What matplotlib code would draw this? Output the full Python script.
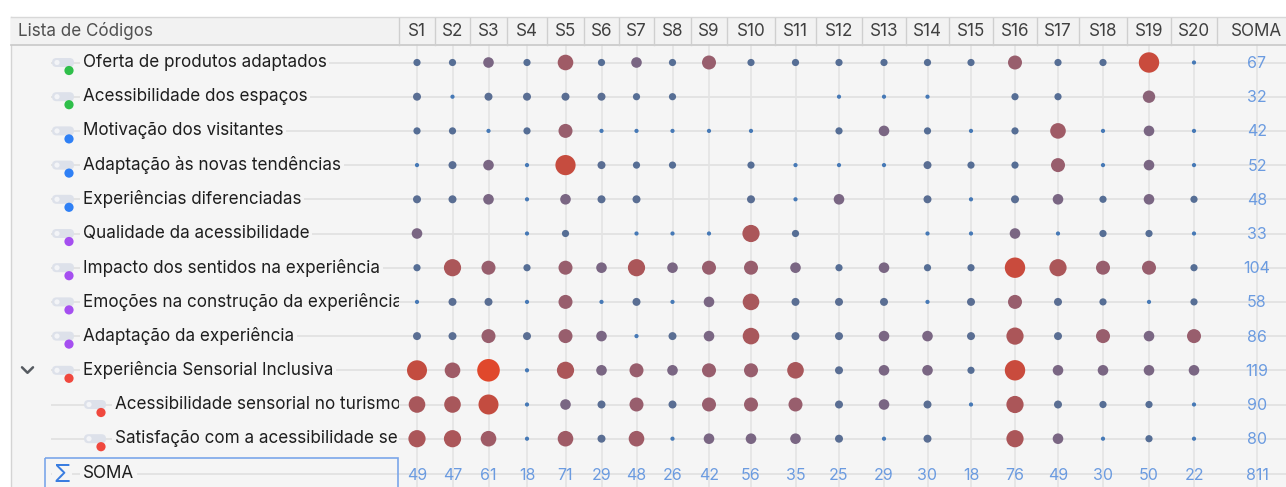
import numpy as np
import matplotlib
matplotlib.use("Agg")
import matplotlib.pyplot as plt
from matplotlib.patches import Rectangle, FancyBboxPatch, Circle
from matplotlib.colors import to_rgb

plt.rcParams['font.family'] = ['Inter', 'DejaVu Sans']

# ---------------- data ----------------
codes = [
    "Oferta de produtos adaptados",
    "Acessibilidade dos espaços",
    "Motivação dos visitantes",
    "Adaptação às novas tendências",
    "Experiências diferenciadas",
    "Qualidade da acessibilidade",
    "Impacto dos sentidos na experiência",
    "Emoções na construção da experiência",
    "Adaptação da experiência",
    "Experiência Sensorial Inclusiva",
    "Acessibilidade sensorial no turismo",
    "Satisfação com a acessibilidade sensorial",
]
code_colors = ["#2fbf4a", "#2fbf4a", "#2f80f5", "#2f80f5", "#2f80f5",
               "#a54ff0", "#a54ff0", "#a54ff0", "#a54ff0",
               "#f0483e", "#f0483e", "#f0483e"]
code_level = [0, 0, 0, 0, 0, 0, 0, 0, 0, 0, 1, 1]
expanded_row = 9

documents = ["S1", "S2", "S3", "S4", "S5", "S6", "S7", "S8", "S9", "S10",
             "S11", "S12", "S13", "S14", "S15", "S16", "S17", "S18", "S19", "S20"]

counts = [
    [2, 2, 4, 2, 7, 2, 4, 2, 6, 2, 2, 2, 2, 2, 2, 6, 2, 2, 13, 1],
    [3, 1, 3, 3, 3, 3, 2, 2, 0, 0, 0, 1, 1, 1, 0, 2, 2, 0, 5, 0],
    [2, 2, 1, 2, 6, 1, 1, 1, 1, 1, 0, 2, 4, 2, 1, 2, 7, 1, 4, 1],
    [1, 3, 4, 1, 12, 3, 2, 2, 0, 2, 1, 1, 1, 3, 2, 2, 6, 1, 4, 1],
    [3, 3, 4, 1, 4, 3, 3, 0, 0, 3, 1, 4, 0, 3, 1, 3, 4, 2, 4, 2],
    [4, 0, 0, 1, 2, 0, 1, 1, 1, 9, 2, 0, 0, 1, 1, 4, 1, 2, 2, 1],
    [2, 9, 6, 2, 6, 4, 9, 4, 6, 6, 4, 2, 4, 2, 2, 13, 9, 6, 6, 2],
    [1, 3, 3, 1, 6, 1, 3, 1, 4, 8, 3, 3, 3, 1, 3, 6, 3, 2, 1, 2],
    [3, 3, 6, 3, 6, 4, 1, 3, 4, 8, 3, 3, 4, 4, 3, 9, 3, 6, 4, 6],
    [11, 7, 15, 1, 9, 4, 6, 4, 6, 6, 8, 3, 4, 4, 2, 13, 4, 4, 4, 4],
    [8, 8, 11, 1, 4, 3, 6, 3, 6, 6, 6, 3, 4, 3, 1, 9, 3, 2, 2, 1],
    [9, 9, 7, 1, 7, 3, 7, 1, 4, 4, 4, 3, 1, 3, 0, 9, 4, 1, 2, 1],
]

row_totals = [67, 32, 42, 52, 48, 33, 104, 58, 86, 119, 90, 80]
col_totals = [49, 47, 61, 18, 71, 29, 48, 26, 42, 56, 35, 25, 29, 30, 18, 76, 49, 30, 50, 22]
grand_total = 811

# ---------------- layout (pixels) ----------------
W, H = 1286, 487
col_edges = [399, 435, 470, 507, 547, 584, 619, 654, 691, 727, 775, 816,
             862, 906, 949, 993, 1037, 1079, 1127, 1171, 1217]
col_x = [(col_edges[i] + col_edges[i + 1]) / 2 for i in range(len(documents))]
soma_x = 1257
row_y0, row_dy = 62.5, 34.2
row_y = [row_y0 + i * row_dy for i in range(len(codes))]
sum_y = 474
hdr_top, hdr_bot = 17, 45
LAB_W = 399
fs_lab = 12.3
fs_num = 11.5

fig = plt.figure(figsize=(W / 100, H / 100), dpi=100)
ax = fig.add_axes([0, 0, 1, 1])
ax.set_xlim(0, W)
ax.set_ylim(H, 0)
ax.axis('off')

# label panel axes (clips long labels at the column border)
axl = fig.add_axes([0, 0, LAB_W / W, 1])
axl.set_xlim(0, LAB_W)
axl.set_ylim(H, 0)
axl.axis('off')
axl.patch.set_visible(False)

bg = "#f5f5f5"
ax.add_patch(Rectangle((11, hdr_bot), W - 11, H - hdr_bot, facecolor=bg, edgecolor="none", zorder=0))
ax.plot([11, 11], [hdr_top, H], color="#d4d4d4", lw=1, zorder=1)

# header
ax.add_patch(Rectangle((11, hdr_top), W - 11, hdr_bot - hdr_top, facecolor="#f2f2f2",
                       edgecolor="none", zorder=1))
ax.plot([11, W], [hdr_top, hdr_top], color="#d8d8d8", lw=1, zorder=2)
ax.plot([11, W], [hdr_bot, hdr_bot], color="#c8c8c8", lw=1.2, zorder=2)
for e in col_edges:
    ax.plot([e, e], [hdr_top + 1, hdr_bot], color="#cfcfcf", lw=1, zorder=2)
ax.text(18, 31, "Lista de Códigos", fontsize=fs_lab, color="#505050", va="center", ha="left", zorder=3)
for x, d in zip(col_x, documents):
    ax.text(x, 31.5, d, fontsize=fs_lab, color="#404040", va="center", ha="center", zorder=3)
ax.text(soma_x, 31.5, "SOMA", fontsize=fs_lab, color="#404040", va="center", ha="center", zorder=3)

# grid lines
grid_c = "#e3e3e3"
for y in row_y + [sum_y]:
    ax.plot([52, W], [y, y], color=grid_c, lw=1.4, zorder=1)
for x in col_x + [soma_x]:
    ax.plot([x, x], [hdr_bot, H], color=grid_c, lw=1.2, zorder=1)

# row labels
for i, (lab, c, lvl, y) in enumerate(zip(codes, code_colors, code_level, row_y)):
    x0 = 51 + lvl * 32
    pill = FancyBboxPatch((x0 + 1, y - 4.5), 22, 9, boxstyle="round,pad=0,rounding_size=4.5",
                          facecolor="#dde1ea", edgecolor="none", zorder=3)
    axl.add_patch(pill)
    axl.add_patch(Circle((x0 + 6, y), 2.6, facecolor="#f3f4f7", edgecolor="none", zorder=4))
    axl.add_patch(Circle((x0 + 18, y + 8), 4.6, facecolor=c, edgecolor="none", zorder=5))
    axl.text(x0 + 32, y, lab, fontsize=fs_lab, color="#1e1e1e", va="center", ha="left", zorder=4,
             clip_on=True,
             bbox=dict(boxstyle="square,pad=0.15", facecolor=bg, edgecolor="none"))
    if i == expanded_row:
        axl.plot([22, 27.5, 33], [y - 3, y + 2.5, y - 3], color="#555a60", lw=1.8,
                 solid_capstyle="round", solid_joinstyle="round", zorder=4)

# SOMA row label
axl.add_patch(Rectangle((45, 458), 353, 40, facecolor="none", edgecolor="#7ba6ea", lw=1.2,
                        zorder=5, clip_on=False))
axl.text(62, sum_y + 1, "Σ", fontsize=18, color="#3a7de0", va="center", ha="center", zorder=6,
         bbox=dict(boxstyle="square,pad=0.05", facecolor=bg, edgecolor="none"))
axl.text(83, sum_y, "SOMA", fontsize=fs_lab, color="#1e1e1e", va="center", ha="left", zorder=6,
         bbox=dict(boxstyle="square,pad=0.15", facecolor=bg, edgecolor="none"))

# dots
ckeys = [1, 2, 3, 4, 5, 6, 7, 8, 9, 11, 13, 15]
rkeys = [2.1, 3.6, 4.0, 5.3, 6.2, 7.0, 7.8, 8.3, 8.6, 10.0, 10.2, 11.3]
colkeys = ["#4679b6", "#566e95", "#5a6e93", "#7a6683", "#8a6277", "#985e6d", "#9f5b66",
           "#a8575b", "#ab5659", "#c34c40", "#c94b3d", "#e0482c"]
colrgb = np.array([to_rgb(c) for c in colkeys])
xs, ys, ss, cs = [], [], [], []
for i, row in enumerate(counts):
    for j, v in enumerate(row):
        if v <= 0:
            continue
        r = np.interp(v, ckeys, rkeys)
        rgb = [np.interp(v, ckeys, colrgb[:, k]) for k in range(3)]
        xs.append(col_x[j]); ys.append(row_y[i])
        ss.append((2 * r * 0.72) ** 2); cs.append(rgb)
ax.scatter(xs, ys, s=ss, c=cs, edgecolors="none", zorder=6)

# totals
blue = "#6b9be0"
for y, v in zip(row_y, row_totals):
    ax.text(soma_x, y + 1, str(v), fontsize=fs_num, color=blue, va="center", ha="center", zorder=7)
for x, v in zip(col_x, col_totals):
    ax.text(x, sum_y + 1, str(v), fontsize=fs_num, color=blue, va="center", ha="center", zorder=7)
ax.text(soma_x, sum_y + 1, str(grand_total), fontsize=fs_num, color=blue, va="center", ha="center", zorder=7)

fig.savefig("out.png", dpi=100, facecolor="white")
